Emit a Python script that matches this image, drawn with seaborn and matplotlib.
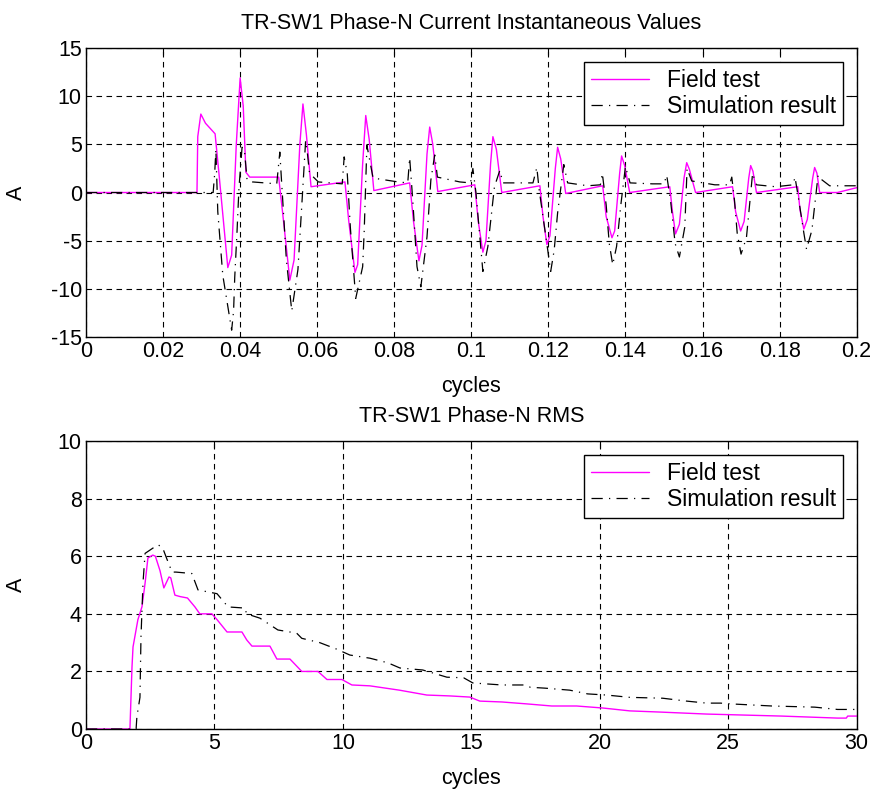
import numpy as np
import pandas as pd
import matplotlib
matplotlib.use("Agg")
import matplotlib.pyplot as plt
import seaborn as sns

# --- top panel: instantaneous current (time in s, current in A) ---
field_t = [0, 0.0288, 0.0290, 0.0298, 0.0310, 0.0335, 0.0345, 0.0368, 0.0378, 0.0390,
           0.0400, 0.0408, 0.0415, 0.0425, 0.0500, 0.0510, 0.0529, 0.0540, 0.0555, 0.0563,
           0.0572, 0.0584, 0.0672, 0.0682, 0.0698, 0.0705, 0.0718, 0.0726, 0.0735, 0.0747,
           0.0840, 0.0850, 0.0864, 0.0872, 0.0885, 0.0892, 0.0900, 0.0913, 0.1009, 0.1018,
           0.1030, 0.1038, 0.1050, 0.1056, 0.1065, 0.1079, 0.1178, 0.1186, 0.1196, 0.1204,
           0.1218, 0.1224, 0.1232, 0.1245, 0.1341, 0.1350, 0.1365, 0.1372, 0.1385, 0.1390,
           0.1398, 0.1411, 0.1515, 0.1522, 0.1530, 0.1540, 0.1552, 0.1559, 0.1566, 0.1582,
           0.1678, 0.1686, 0.1699, 0.1708, 0.1720, 0.1725, 0.1731, 0.1740, 0.1847, 0.1853,
           0.1863, 0.1872, 0.1886, 0.1891, 0.1897, 0.1904, 0.1950, 0.2000]
field_a = [0, 0, 5.8, 8.15, 7.2, 6.1, 2, -7.8, -6.5, 5,
           11.9, 9, 2.1, 1.6, 1.6, -2, -9.1, -7, 5, 9.2,
           6, 0.6, 1.1, -3, -8.3, -7.5, 3, 8.0, 5.5, 0.2,
           1.0, -3, -7.1, -5.5, 4, 6.8, 5, 0.1, 0.8, -3,
           -6.2, -5, 3, 5.8, 4.5, 0, 0.7, -2.5, -5.4, -4.5,
           2.5, 4.7, 3.5, -0.1, 0.7, -2.5, -4.7, -4, 2, 3.8,
           2.8, 0, 0.6, -2, -4.3, -3.3, 1.5, 3.1, 2.4, 0,
           0.6, -2, -4.0, -3, 1.5, 2.8, 2.2, 0, 0.6, -1.8,
           -3.8, -2.8, 1.5, 2.6, 2, 0, 0, 0.5]

sim_t = [0, 0.0330, 0.0334, 0.0337, 0.0342, 0.0355, 0.0378, 0.0383, 0.0386, 0.0392,
         0.0397, 0.0405, 0.0411, 0.0418, 0.0432, 0.0495, 0.0503, 0.0507, 0.0520, 0.0534,
         0.0550, 0.0562, 0.0570, 0.0574, 0.0580, 0.0603, 0.0665, 0.0670, 0.0678, 0.0686,
         0.0700, 0.0718, 0.0722, 0.0729, 0.0745, 0.0810, 0.0835, 0.0840, 0.0848, 0.0859,
         0.0869, 0.0885, 0.0895, 0.0905, 0.0912, 0.0970, 0.0998, 0.1004, 0.1012, 0.1030,
         0.1043, 0.1060, 0.1074, 0.1082, 0.1160, 0.1170, 0.1176, 0.1196, 0.1206, 0.1215,
         0.1224, 0.1240, 0.1250, 0.1302, 0.1335, 0.1340, 0.1350, 0.1358, 0.1367, 0.1377,
         0.1388, 0.1400, 0.1412, 0.1470, 0.1500, 0.1507, 0.1517, 0.1529, 0.1540, 0.1554,
         0.1560, 0.1572, 0.1632, 0.1670, 0.1676, 0.1683, 0.1690, 0.1700, 0.1714, 0.1730,
         0.1740, 0.1790, 0.1835, 0.1840, 0.1850, 0.1863, 0.1870, 0.1884, 0.1900, 0.1904,
         0.1930, 0.2000]
sim_a = [0, 0, 2, 4.5, -2, -8.6, -14.3, -12.3, -8.8, -4,
         0.5, 4.7, 4.5, 1.3, 1.1, 0.9, 4.2, 1.5, -7, -12.3,
         -8, 0, 5.4, 4.3, 2, 1.1, 0.9, 3.7, 2, -3.6,
         -11, -7.7, -4, 4.9, 1.5, 1.1, 1.0, 3.6, -0.8, -7.7,
         -9.8, -4.6, 1.3, 3.9, 1.6, 1.1, 1.0, 2.5, 0, -8.2,
         -5.6, 0.6, 2.3, 1.0, 1.0, 2.6, 0.3, -5.3, -8.2, -6.0,
         -2.1, 2.9, 1.0, 0.7, 0.8, 2.0, -1.3, -5.3, -7.5, -5.6,
         -1.3, 2.7, 1.0, 0.9, 0.9, 1.8, -0.8, -5.3, -6.7, -3.6,
         2.5, 1.2, 0.8, 0.8, 1.6, -0.8, -4.2, -6.4, -4.7, 2.0,
         0.8, 0.6, 0.8, 1.6, -0.8, -4.2, -5.9, -3.9, 1.8, 1.5,
         0.7, 0.7]

# --- bottom panel: RMS current vs cycles ---
field_rms_c = [0, 1.71, 1.79, 1.83, 2.02, 2.18, 2.3, 2.41, 2.6, 2.7, 2.88, 3.03, 3.23, 3.3,
               3.46, 3.66, 3.95, 4.24, 4.43, 4.9, 5.1, 5.49, 6.07, 6.26, 6.46, 7.16, 7.43,
               7.94, 8.4, 9.03, 9.38, 9.96, 10.35, 11.05, 12.2, 13.27, 14.16, 14.94, 15.33,
               16.19, 17.2, 18.13, 19.1, 20.12, 21.17, 22.33, 24.16, 27.08, 29.26, 29.6,
               29.65, 30]
field_rms_a = [0, 0, 2.15, 2.85, 3.8, 4.25, 5.07, 5.94, 6.04, 6.0, 5.5, 4.9, 5.28, 5.25,
               4.65, 4.6, 4.55, 4.24, 4.0, 4.0, 3.8, 3.37, 3.37, 3.09, 2.88, 2.88, 2.43,
               2.43, 2.0, 2.0, 1.72, 1.72, 1.53, 1.5, 1.35, 1.18, 1.15, 1.11, 0.97,
               0.94, 0.87, 0.8, 0.8, 0.73, 0.63, 0.59, 0.52, 0.45, 0.38, 0.38,
               0.45, 0.45]

sim_rms_c = [0, 1.95, 1.98, 2.1, 2.14, 2.22, 2.3, 2.8, 2.98, 3.15, 3.35, 3.5, 4.12, 4.36,
             5.1, 5.53, 6.19, 6.25, 6.77, 7.47, 8.2, 8.4, 9.1, 9.77, 10.27, 11.05, 11.75,
             12.22, 13.11, 14.05, 14.7, 15.06, 16.19, 17.08, 17.3, 17.86, 18.83, 19.53,
             20.27, 21.17, 22.45, 23.38, 24.16, 24.7, 25.17, 26.7, 28.37, 29.26, 30]
sim_rms_a = [0, 0, 0.42, 1.1, 3.2, 5.1, 6.1, 6.4, 6.3, 5.9, 5.45, 5.45, 5.4, 4.83,
             4.7, 4.24, 4.2, 4.0, 3.85, 3.44, 3.33, 3.15, 3.0, 2.77, 2.57, 2.46, 2.3,
             2.12, 2.05, 1.8, 1.78, 1.6, 1.53, 1.53, 1.45, 1.42, 1.35, 1.22,
             1.18, 1.1, 1.07, 0.97, 0.9, 0.9, 0.87, 0.8, 0.76, 0.68, 0.68]

sns.set_theme(style="white")
plt.rcParams['font.family'] = ['Liberation Sans', 'DejaVu Sans']
plt.rcParams['axes.unicode_minus'] = False
plt.rcParams['text.color'] = 'black'
plt.rcParams['axes.labelcolor'] = 'black'
FS = 15.5

fig = plt.figure(figsize=(8.75, 7.89), dpi=100)
ax1 = fig.add_axes([0.0983, 0.573, 0.8807, 0.366])
ax2 = fig.add_axes([0.0983, 0.076, 0.8807, 0.365])

magenta = '#ff00ff'
dashdot = (0, (9, 5, 1, 5))

def style_axes(ax, title, xlim, ylim, xticks, yticks, xticklabels=None):
    ax.set_xlim(*xlim)
    ax.set_ylim(*ylim)
    ax.set_xticks(xticks)
    if xticklabels is not None:
        ax.set_xticklabels(xticklabels)
    ax.set_yticks(yticks)
    ax.grid(True, color='black', linestyle=(0, (5, 4)), linewidth=0.8)
    for s in ax.spines.values():
        s.set_color('black')
        s.set_linewidth(1.0)
    ax.tick_params(direction='in', length=5, width=0.8, top=True, right=True,
                   labelsize=FS, colors='black', pad=3)
    ax.set_title(title, fontsize=FS, pad=14, color='black')
    ax.set_xlabel('cycles', fontsize=FS, labelpad=10, color='black')
    ax.set_ylabel('A', fontsize=FS, color='black')
    ax.yaxis.set_label_coords(-0.076, 0.5)
    leg = ax.legend(loc='upper right', fontsize=FS + 1, frameon=True, fancybox=False,
                    edgecolor='black', framealpha=1, borderpad=0.3,
                    handlelength=2.5, handletextpad=0.8, borderaxespad=0.6,
                    labelspacing=0.15)
    leg.get_frame().set_linewidth(1.0)
    for txt in leg.get_texts():
        txt.set_color('black')

sns.lineplot(x=field_t, y=field_a, ax=ax1, color=magenta, linewidth=1.0,
             estimator=None, sort=False, label='Field test')
sns.lineplot(x=sim_t, y=sim_a, ax=ax1, color='black', linewidth=0.9,
             estimator=None, sort=False, label='Simulation result', linestyle=dashdot)
tick_top = np.round(np.arange(0, 0.2001, 0.02), 2)
style_axes(ax1, 'TR-SW1 Phase-N Current Instantaneous Values', (0, 0.2), (-15, 15),
           tick_top, np.arange(-15, 16, 5), [f'{v:g}' for v in tick_top])

sns.lineplot(x=field_rms_c, y=field_rms_a, ax=ax2, color=magenta, linewidth=1.0,
             estimator=None, sort=False, label='Field test')
sns.lineplot(x=sim_rms_c, y=sim_rms_a, ax=ax2, color='black', linewidth=0.9,
             estimator=None, sort=False, label='Simulation result', linestyle=dashdot)
style_axes(ax2, 'TR-SW1 Phase-N RMS', (0, 30), (0, 10),
           np.arange(0, 31, 5), np.arange(0, 11, 2))

fig.savefig('out.png', dpi=100)
